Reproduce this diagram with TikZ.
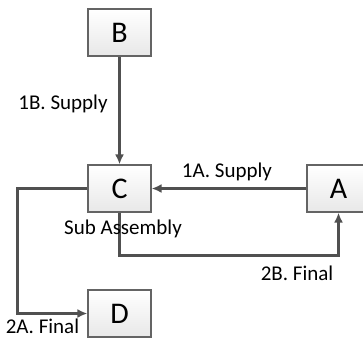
\documentclass[tikz,border=0pt]{standalone}
\usepackage{fontspec}
\setmainfont{Carlito}
\usepackage{xcolor}
\definecolor{linegray}{RGB}{80,80,80}
\definecolor{boxgray}{RGB}{100,100,100}
\usepackage{tikz}
\usetikzlibrary{positioning}
\usetikzlibrary{arrows.meta}

\tikzset{
  block/.style={draw=boxgray,line width=1.2pt,rectangle,top color=white,bottom color=gray!18,
    minimum width=63pt,minimum height=47pt,inner sep=0pt,font=\fontsize{30}{32}\selectfont},
  flow/.style={draw=linegray,line width=2.4pt,-{Latex[length=10pt,width=9pt]}},
  tag/.style={inner sep=0pt,font=\fontsize{21}{23}\selectfont}
}

\begin{document}
\begin{tikzpicture}[x=1pt,y=-1pt]
\useasboundingbox (0,0) rectangle (363,343);
%blocks
\node (B) at (119.5,32.5) [block] {B};
\node (C) at (119.5,188.5) [block] {C};
\node (A) at (338.5,188.5) [block] {A};
\node (D) at (119.5,313.5) [block] {D};

%supply flows
\draw [flow] (B) -- (C);
\draw [flow] (A) -- (C);

%final flows
\draw [flow] (C.west) -- ++(-70,0) |- (D);
\draw [flow] (C.south) -- ++(0,43) -| (A.south);

%labels
\node (l1b) at (63,104) [tag] {1B. Supply};
\node (l1a) at (227,172) [tag] {1A. Supply};
\node (sub) at (123,229) [tag] {Sub Assembly};
\node (l2b) at (297,273) [tag] {2B. Final};
\node (l2a) at (42.5,326) [tag] {2A. Final};
\end{tikzpicture}
\end{document}
